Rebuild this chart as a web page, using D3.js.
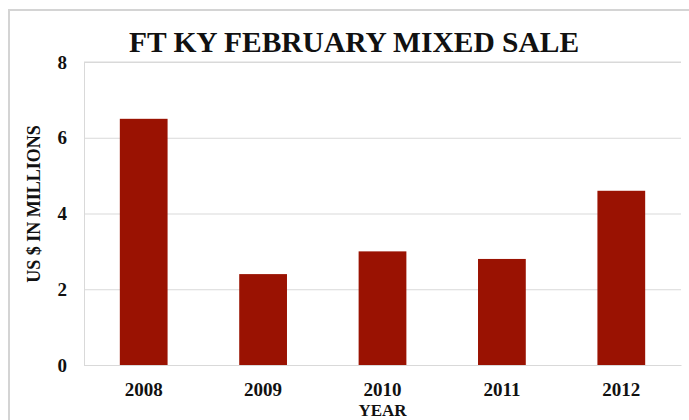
<!DOCTYPE html>
<html><head><meta charset="utf-8">
<script src="https://cdn.jsdelivr.net/npm/d3@7"></script>
<style>html,body{margin:0;padding:0;background:#fff;}svg{display:block;}</style>
</head><body>
<svg id="c" width="689" height="420"></svg>
<script>
const categories = ["2008", "2009", "2010", "2011", "2012"];
const values = [6.5, 2.4, 3.0, 2.8, 4.6];
const yTicks = [0, 2, 4, 6, 8];
const titleText = "FT KY FEBRUARY MIXED SALE";
const yLabel = "US $ IN MILLIONS";
const xLabel = "YEAR";

const svg = d3.select("#c");
const font = "'Liberation Serif', 'Times New Roman', serif";
const m = {left: 84, right: 681, top: 62, bottom: 365};

// outer frame
svg.append("rect").attr("x", 9).attr("y", 10).attr("width", 700).attr("height", 430)
  .attr("fill", "none").attr("stroke", "#d4d4d4").attr("stroke-width", 2);

const x = d3.scaleBand().domain(categories).range([m.left, m.right]).paddingInner(0.6).paddingOuter(0.3);
const y = d3.scaleLinear().domain([0, 8]).range([m.bottom, m.top]);

// grid
const yAxis = d3.axisLeft(y).tickValues(yTicks).tickSize(-(m.right - m.left)).tickPadding(17);
const gy = svg.append("g").attr("transform", `translate(${m.left},0)`).call(yAxis);
gy.select(".domain").attr("stroke", "#d9d9d9");
gy.selectAll(".tick line").attr("stroke", "#d9d9d9");
gy.selectAll(".tick text").attr("font-family", font).attr("font-weight", "bold")
  .attr("font-size", 19).attr("fill", "#111");

// plot top border
svg.append("line").attr("x1", m.left).attr("x2", m.right).attr("y1", m.top).attr("y2", m.top)
  .attr("stroke", "#d9d9d9");

// bars
svg.append("g").selectAll("rect").data(values).join("rect")
  .attr("x", (d, i) => x(categories[i]))
  .attr("width", x.bandwidth())
  .attr("y", d => y(d))
  .attr("height", d => y(0) - y(d))
  .attr("fill", "#9a1202");

// x axis
const xAxis = d3.axisBottom(x).tickSize(0).tickPadding(18);
const gx = svg.append("g").attr("transform", `translate(0,${m.bottom})`).call(xAxis);
gx.select(".domain").attr("stroke", "#d9d9d9");
gx.selectAll(".tick text").attr("font-family", font).attr("font-weight", "bold")
  .attr("font-size", 19).attr("fill", "#111");

// title
svg.append("text").attr("x", 354).attr("y", 52).attr("text-anchor", "middle")
  .attr("font-family", font).attr("font-weight", "bold").attr("font-size", 29.5)
  .attr("fill", "#111").text(titleText);

// y label
svg.append("text").attr("transform", "translate(40,204) rotate(-90)").attr("text-anchor", "middle")
  .attr("font-family", font).attr("font-weight", "bold").attr("font-size", 18)
  .attr("fill", "#111").text(yLabel);

// x label
svg.append("text").attr("x", x("2010") + x.bandwidth() / 2).attr("y", 416).attr("text-anchor", "middle")
  .attr("font-family", font).attr("font-weight", "bold").attr("font-size", 17)
  .attr("fill", "#111").text(xLabel);
</script>
</body></html>
